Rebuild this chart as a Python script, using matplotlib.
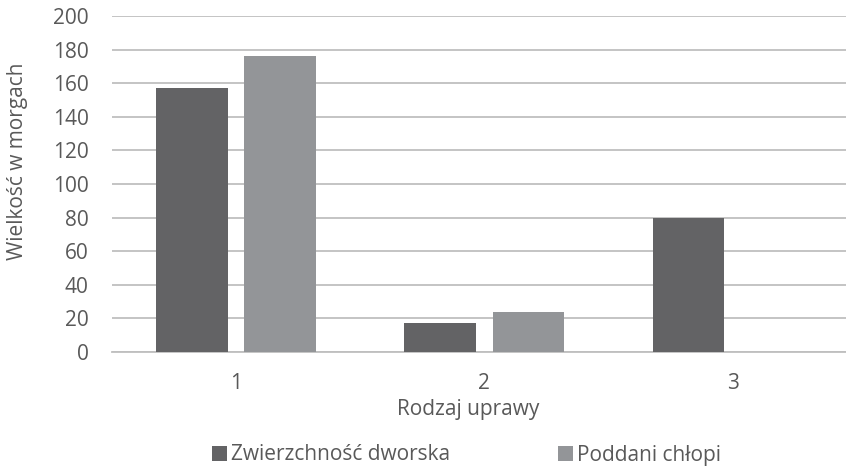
import matplotlib
matplotlib.use("Agg")
import matplotlib.pyplot as plt
import numpy as np

categories = ["1", "2", "3"]
series_names = ["Zwierzchność dworska", "Poddani chłopi"]
dworska = [157, 17, 80]
chlopi = [176, 24, 0]
yticks = [0, 20, 40, 60, 80, 100, 120, 140, 160, 180, 200]

plt.rcParams['font.family'] = ['Open Sans', 'DejaVu Sans']
txt = '#595959'
dark = '#636365'
light = '#939598'
fs = 15

fig = plt.figure(figsize=(8.46, 4.74), dpi=100)
left = 111.75 / 846
right = 857 / 846
bottom = 1 - 352 / 474
top = 1 - 16 / 474
ax = fig.add_axes([left, bottom, right - left, top - bottom])

x = np.arange(1, len(categories) + 1)
w = 0.288
off = 0.178
ax.bar(x - off, dworska, width=w, color=dark, label=series_names[0], zorder=3)
ax.bar(x + off, chlopi, width=w, color=light, label=series_names[1], zorder=3)

ax.set_xlim(0.5, 3.5)
ax.set_ylim(0, 200)
ax.set_yticks(yticks)
ax.set_xticks(x)
ax.set_xticklabels(categories)
ax.yaxis.grid(True, color='#bfbfbf', linewidth=1.3, zorder=0)
ax.set_axisbelow(True)
for s in ['top', 'right', 'left']:
    ax.spines[s].set_visible(False)
ax.spines['bottom'].set_color('#bfbfbf')
ax.spines['bottom'].set_linewidth(1.3)
ax.tick_params(axis='both', length=0, labelsize=fs, colors=txt)
ax.tick_params(axis='y', pad=16.5)
ax.tick_params(axis='x', pad=15)

fig.text(468 / 846, 1 - 410 / 474, "Rodzaj uprawy", ha='center', va='center',
         fontsize=fs, color=txt)
fig.text(18 / 846, 1 - 161 / 474, "Wielkość w morgach", ha='center', va='center',
         rotation=90, fontsize=fs, color=txt)

leg = fig.legend(loc='center', bbox_to_anchor=(466.5 / 846, 1 - 455 / 474), ncol=2,
                 frameon=False, handlelength=0.72, handleheight=0.72,
                 handletextpad=0.2, columnspacing=5.15, fontsize=fs)
for t in leg.get_texts():
    t.set_color(txt)

fig.savefig("out.png", dpi=100)
